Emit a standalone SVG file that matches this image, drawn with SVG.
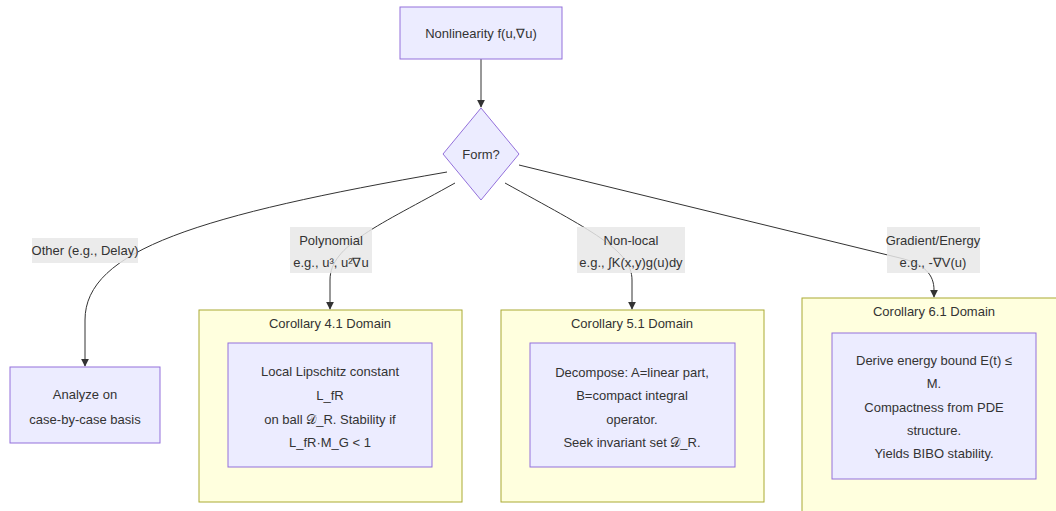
<svg xmlns="http://www.w3.org/2000/svg" width="1056" height="511" viewBox="0 0 1056 511">
<style>
text{font-family:"Liberation Sans",Arial,sans-serif;font-size:13px;fill:#333;text-anchor:middle;dominant-baseline:central}
.node{fill:#ECECFF;stroke:#9370DB;stroke-width:1}
.cluster{fill:#FFFFDE;stroke:#AAAA33;stroke-width:1}
.edge{fill:none;stroke:#333;stroke-width:1}
.lbl{fill:#E8E8E8;fill-opacity:0.85}
</style>
<defs>
<marker id="arr" viewBox="0 0 10 10" refX="9" refY="5" markerWidth="8" markerHeight="8" markerUnits="userSpaceOnUse" orient="auto">
<path d="M0,0 L10,5 L0,10 z" fill="#333"/>
</marker>
</defs>
<rect width="1056" height="511" fill="#fff"/>
<g id="cluster41"><rect class="cluster" x="199" y="310" width="263" height="192"/><text x="330" y="323">Corollary 4.1 Domain</text></g>
<g id="cluster51"><rect class="cluster" x="501" y="310" width="263" height="192"/><text x="632" y="323">Corollary 5.1 Domain</text></g>
<g id="cluster61"><rect class="cluster" x="802" y="298" width="263" height="230"/><text x="934" y="311">Corollary 6.1 Domain</text></g>
<g id="connectors">
<path class="edge" d="M481,59 L481,107" marker-end="url(#arr)"/>
<path class="edge" d="M447,172 C200,215 85,250 85,320 L85,366" marker-end="url(#arr)"/>
<path class="edge" d="M455,183 C380,225 330,245 330,280 L330,309" marker-end="url(#arr)"/>
<path class="edge" d="M505,183 C590,230 632,250 632,280 L632,309" marker-end="url(#arr)"/>
<path class="edge" d="M519,165 L900,258 C925,264 934,275 934,290 L934,297" marker-end="url(#arr)"/>
</g>
<g id="edge-labels">
<g id="lbl-other"><rect class="lbl" x="32" y="238" width="106" height="25"/><text x="85" y="250">Other (e.g., Delay)</text></g>
<g id="lbl-poly"><rect class="lbl" x="290" y="227" width="82" height="46"/><text x="331" y="240">Polynomial</text><text x="331" y="262">e.g., u³, u²∇u</text></g>
<g id="lbl-nonlocal"><rect class="lbl" x="577" y="227" width="108" height="46"/><text x="631" y="240">Non-local</text><text x="631" y="262">e.g., ∫K(x,y)g(u)dy</text></g>
<g id="lbl-grad"><rect class="lbl" x="887" y="227" width="93" height="46"/><text x="933" y="240">Gradient/Energy</text><text x="933" y="262">e.g., -∇V(u)</text></g>
</g>
<g id="nonlinearity"><rect class="node" x="400" y="7" width="162" height="52"/><text x="481" y="33">Nonlinearity f(u,∇u)</text></g>
<g id="form"><polygon class="node" points="481,108 519,154 481,200 443,154"/><text x="481" y="154">Form?</text></g>
<g id="analyze"><rect class="node" x="10" y="367" width="150" height="76"/><text x="85" y="394">Analyze on</text><text x="85" y="419">case-by-case basis</text></g>
<g id="lipschitz"><rect class="node" x="228" y="343" width="204" height="124"/><text x="330" y="371">Local Lipschitz constant</text><text x="330" y="395">L_fR</text><text x="330" y="419">on ball 𝒟_R. Stability if</text><text x="330" y="442">L_fR·M_G &lt; 1</text></g>
<g id="decompose"><rect class="node" x="530" y="343" width="205" height="124"/><text x="632" y="372">Decompose: A=linear part,</text><text x="632" y="395">B=compact integral</text><text x="632" y="419">operator.</text><text x="632" y="442">Seek invariant set 𝒟_R.</text></g>
<g id="energy"><rect class="node" x="832" y="333" width="204" height="146"/><text x="934" y="360">Derive energy bound E(t) ≤</text><text x="934" y="383">M.</text><text x="934" y="407">Compactness from PDE</text><text x="934" y="430">structure.</text><text x="934" y="453">Yields BIBO stability.</text></g>
</svg>
